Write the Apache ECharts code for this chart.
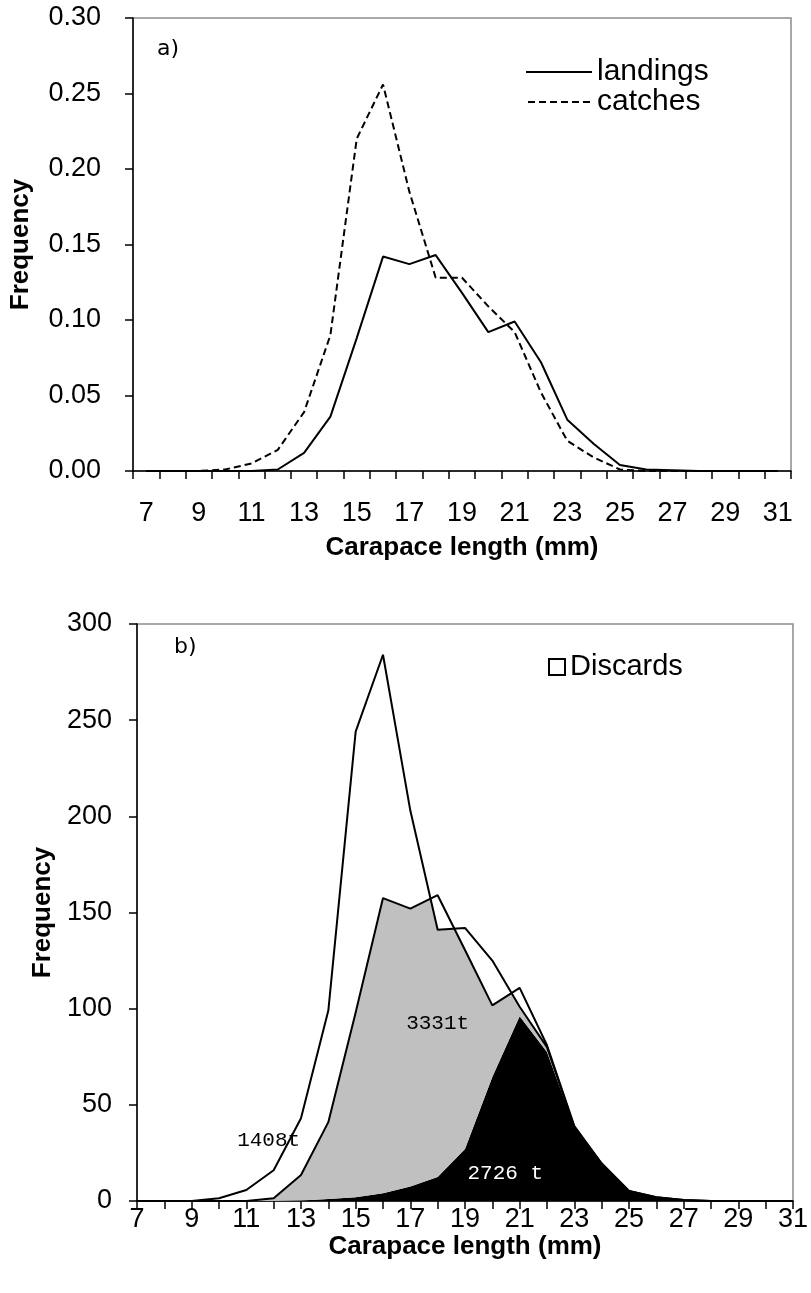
<!DOCTYPE html>
<html>
<head>
<meta charset="utf-8">
<script src="https://cdn.jsdelivr.net/npm/echarts@6/dist/echarts.min.js"></script>
<style>
html,body{margin:0;padding:0;background:#fff;}
#chart{width:811px;height:1293px;}
</style>
</head>
<body>
<div id="chart"></div>
<script>
// ---- Data ----
const lengths = ['7','8','9','10','11','12','13','14','15','16','17','18','19','20','21','22','23','24','25','26','27','28','29','30','31'];

// Panel a) relative frequencies
const landingsFreq = [0,0,0,0,0,0.001,0.012,0.036,0.088,0.142,0.137,0.143,0.118,0.092,0.099,0.072,0.034,0.018,0.004,0.001,0.0005,0,0,0,0];
const catchesFreq  = [0,0,0,0.001,0.005,0.014,0.039,0.090,0.220,0.256,0.185,0.128,0.128,0.109,0.092,0.052,0.020,0.009,0.001,0,0,0,0,0,0];

// Panel b) frequencies (cumulative levels read from the picture)
const blackLevel    = [0,0,0,0,0,0,0.3,1,2,4,7.5,12.5,27,64.5,96,77.5,38.5,19.5,5.2,1.9,0.5,0,0,0,0];
const landingsLevel = [0,0,0,0,0,1.4,13.5,41,98,157.5,152,159,130.5,101.7,110.8,81,39,19.5,5.2,1.9,0.5,0,0,0,0];
const catchesLevel  = [0,0,0,1.4,5.7,16,43,99,244,284,203,141,142,125,101,80,38.5,19.5,5.2,1.9,0.5,0,0,0,0];

const yTicksA = {min:0, max:0.30, step:0.05};
const yTicksB = {min:0, max:300, step:50};

// stacked components for the area chart
const greyPart = landingsLevel.map((v,i)=> +(v - blackLevel[i]).toFixed(3));
const discardPart = catchesLevel.map((v,i)=> +(v - landingsLevel[i]).toFixed(3));

// ---- Chart ----
const FONT = '"Liberation Sans", Arial, sans-serif';
const MONO = '"Liberation Mono", "DejaVu Sans Mono", monospace';
const chart = echarts.init(document.getElementById('chart'));

function xAxisCfg(gi, gap, labelMargin, nameGap){
  return {
    gridIndex: gi, type:'category', data: lengths, boundaryGap: gap,
    axisLine:{show:true, onZero:false, lineStyle:{color:'#000', width:1.5}},
    axisTick:{show:true, interval:0, length:8, lineStyle:{color:'#000', width:1.5}},
    axisLabel:{interval:1, margin:labelMargin, fontSize:27, color:'#000', fontFamily:FONT},
    splitLine:{show:false},
    name:'Carapace length (mm)', nameLocation:'middle', nameGap:nameGap,
    nameTextStyle:{fontSize:26, fontWeight:'bold', color:'#000', fontFamily:FONT}
  };
}
function yAxisCfg(gi, t, fmt, labelMargin, nameGap){
  return {
    gridIndex: gi, type:'value', min:t.min, max:t.max, interval:t.step,
    axisLine:{show:true, lineStyle:{color:'#000', width:1.5}},
    axisTick:{show:true, length:8, lineStyle:{color:'#000', width:1.5}},
    axisLabel:{margin:labelMargin, fontSize:27, color:'#000', fontFamily:FONT, formatter:fmt},
    splitLine:{show:false},
    name:'Frequency', nameLocation:'middle', nameGap:nameGap,
    nameTextStyle:{fontSize:26, fontWeight:'bold', color:'#000', fontFamily:FONT}
  };
}

const SOLID_ICON = 'path://M0,0H66V2H0Z';
const DASH_ICON = 'path://M0,0H7V2H0Z M11,0H18V2H11Z M22,0H29V2H22Z M33,0H40V2H33Z M44,0H51V2H44Z M55,0H62V2H55Z';

const option = {
  animation:false,
  backgroundColor:'#fff',
  grid:[
    {left:133, top:18, width:658, height:453, show:true, borderColor:'#8c8c8c', borderWidth:1.5, backgroundColor:'transparent'},
    {left:137, top:624, width:657, height:577, show:true, borderColor:'#8c8c8c', borderWidth:1.5, backgroundColor:'transparent'}
  ],
  xAxis:[ xAxisCfg(0, true, 29, 64), xAxisCfg(1, false, 5, 27) ],
  yAxis:[
    yAxisCfg(0, yTicksA, v=>v.toFixed(2), 32, 99),
    yAxisCfg(1, yTicksB, v=>String(v), 25, 80)
  ],
  legend:[
    {data:[{name:'landings', icon:SOLID_ICON},{name:'catches', icon:DASH_ICON}],
     orient:'vertical', left:521, top:52, itemWidth:66, itemHeight:2, itemGap:0,
     selectedMode:false, textStyle:{fontSize:30, lineHeight:30, color:'#000', fontFamily:FONT}},
    {data:['Discards'], left:543, top:647, icon:'rect', itemWidth:16, itemHeight:16, selectedMode:false,
     itemStyle:{color:'#fff', borderColor:'#000', borderWidth:2},
     textStyle:{fontSize:29, lineHeight:30, color:'#000', fontFamily:FONT}}
  ],
  graphic:[
    {type:'text', left:157, top:38, style:{text:'a)', font:'22px "DejaVu Sans", Verdana, sans-serif', fill:'#000'}},
    {type:'text', left:174, top:636, style:{text:'b)', font:'22px "DejaVu Sans", Verdana, sans-serif', fill:'#000'}}
  ],
  series:[
    {name:'landings', type:'line', xAxisIndex:0, yAxisIndex:0, data:landingsFreq, symbol:'none',
     lineStyle:{color:'#000', width:2}, itemStyle:{color:'#000'}, z:3},
    {name:'catches', type:'line', xAxisIndex:0, yAxisIndex:0, data:catchesFreq, symbol:'none',
     lineStyle:{color:'#000', width:2, type:[7,4]}, itemStyle:{color:'#000'}, z:3},

    {name:'Larger sizes (2726 t)', type:'line', xAxisIndex:1, yAxisIndex:1, stack:'b', stackStrategy:'all',
     data:blackLevel, symbol:'none', lineStyle:{width:0, opacity:0}, areaStyle:{color:'#000', opacity:1}, z:2},
    {name:'Landings (3331 t)', type:'line', xAxisIndex:1, yAxisIndex:1, stack:'b', stackStrategy:'all',
     data:greyPart, symbol:'none', lineStyle:{width:0, opacity:0}, areaStyle:{color:'#c0c0c0', opacity:1}, z:2},
    {name:'Discards', type:'line', xAxisIndex:1, yAxisIndex:1, stack:'b', stackStrategy:'all',
     data:discardPart, symbol:'none', lineStyle:{width:0, opacity:0}, areaStyle:{color:'#fff', opacity:1},
     itemStyle:{color:'#fff', borderColor:'#000', borderWidth:2}, z:2},
    {name:'Landings outline', type:'line', xAxisIndex:1, yAxisIndex:1, data:landingsLevel, symbol:'none',
     lineStyle:{color:'#000', width:2}, z:4},
    {name:'Catches outline', type:'line', xAxisIndex:1, yAxisIndex:1, data:catchesLevel, symbol:'none',
     lineStyle:{color:'#000', width:2}, z:4,
     markPoint:{
       symbol:'rect', symbolSize:1, itemStyle:{color:'rgba(0,0,0,0)'},
       label:{show:true, position:'inside', formatter:'{b}', fontFamily:MONO, fontSize:21},
       data:[
         {name:'1408t', coord:['12', 31.6], label:{color:'#000', offset:[-5,0]}},
         {name:'3331t', coord:['18', 92.3], label:{color:'#000', offset:[0,0]}},
         {name:'2726 t', coord:['20', 14.5], label:{color:'#fff', offset:[13,0]}}
       ]
     }}
  ]
};
chart.setOption(option);
</script>
</body>
</html>
